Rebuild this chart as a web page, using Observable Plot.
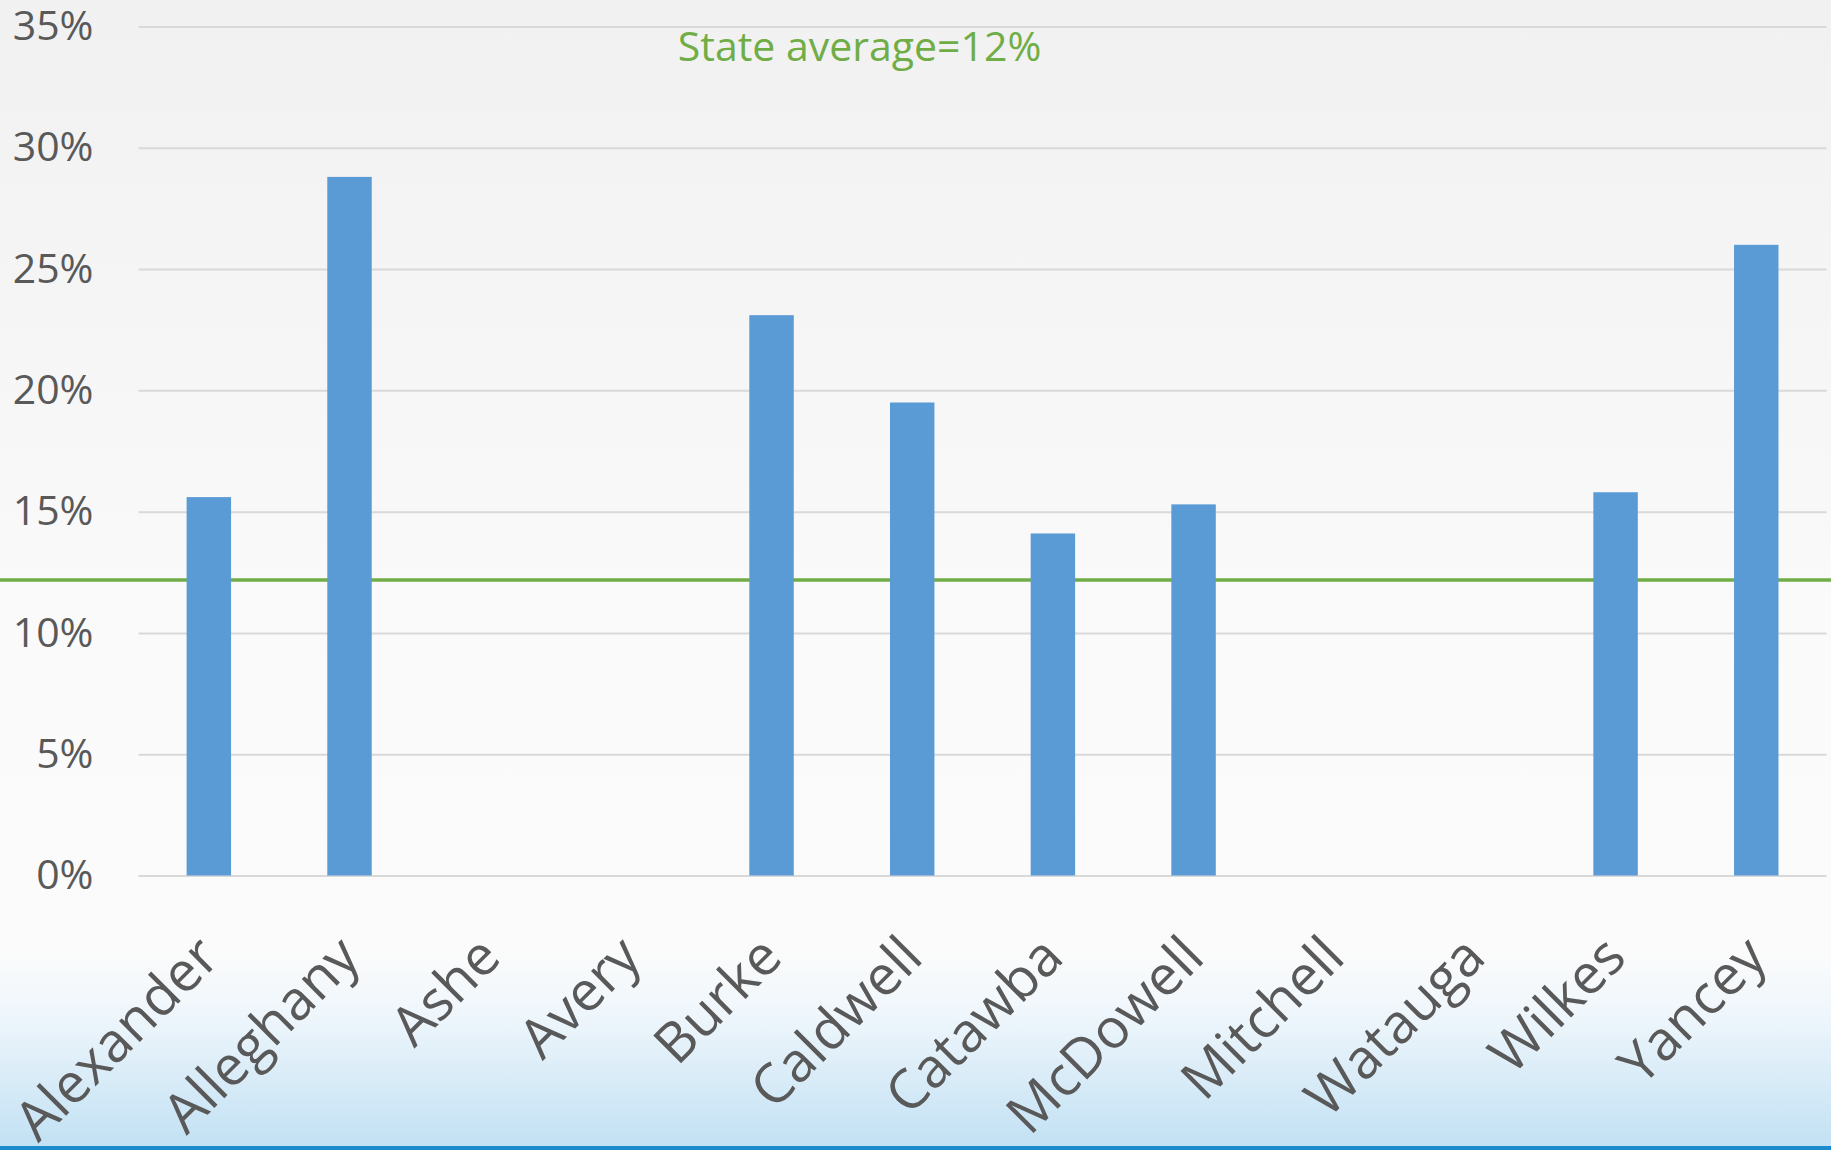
<!DOCTYPE html>
<html>
<head>
<meta charset="utf-8">
<script src="https://cdn.jsdelivr.net/npm/d3@7"></script>
<script src="https://cdn.jsdelivr.net/npm/@observablehq/plot@0.6"></script>
<style>
  html, body { margin: 0; padding: 0; }
  body {
    width: 1831px; height: 1150px; overflow: hidden;
    background:
      linear-gradient(to bottom, rgba(0,0,0,0) 0px, rgba(0,0,0,0) 1146px, #1b8bcc 1146px, #1b8bcc 1150px),
      linear-gradient(to bottom, #f1f1f1 0px, #f5f5f5 300px, #fafafa 600px, #fbfbfb 950px, #f0f7fc 1010px, #dcedf8 1070px, #c4e2f4 1140px);
  }
  #chart { position: relative; }
</style>
</head>
<body>
<div id="chart"></div>
<script>
const counties = ["Alexander", "Alleghany", "Ashe", "Avery", "Burke", "Caldwell", "Catawba", "McDowell", "Mitchell", "Watauga", "Wilkes", "Yancey"];
const rates = [15.6, 28.8, null, null, 23.1, 19.5, 14.1, 15.3, null, null, 15.8, 26.0];
const yTicks = [0, 5, 10, 15, 20, 25, 30, 35];
const stateAverage = 12.2;
const stateLabel = "State average=12%";

const data = counties.map((c, i) => ({county: c, rate: rates[i]}));

const plot = Plot.plot({
  width: 1831,
  height: 1150,
  marginTop: 26.5,
  marginBottom: 274.5,
  marginLeft: 138.5,
  marginRight: 4.4,
  x: {domain: counties, paddingInner: 0.684, paddingOuter: 0.342, round: false, label: null},
  y: {domain: [0, 35], ticks: yTicks, label: null},
  style: {fontFamily: "'Open Sans', sans-serif", background: "transparent", color: "#595959", overflow: "visible"},
  marks: [
    Plot.ruleY(yTicks, {stroke: "#d9d9d9", strokeWidth: 2}),
    Plot.ruleY([stateAverage], {stroke: "#70AD47", strokeWidth: 3.5, insetLeft: -138.5, insetRight: -4.4}),
    Plot.barY(data.filter(d => d.rate != null), {x: "county", y: "rate", fill: "#5B9BD5"}),
    Plot.axisY(yTicks, {tickSize: 0, tickPadding: 45.5, tickFormat: d => d + "%", fontSize: 41, fill: "#595959", label: null}),
    Plot.axisX({tickSize: 0, tickRotate: -45, tickPadding: 71.5, fontSize: 55, fill: "#595959", label: null}),
    Plot.text([stateLabel], {frameAnchor: "top", lineAnchor: "middle", dx: -123.5, dy: 20.5, fill: "#70AD47", fontSize: 41})
  ]
});
document.getElementById("chart").appendChild(plot);
</script>
</body>
</html>
